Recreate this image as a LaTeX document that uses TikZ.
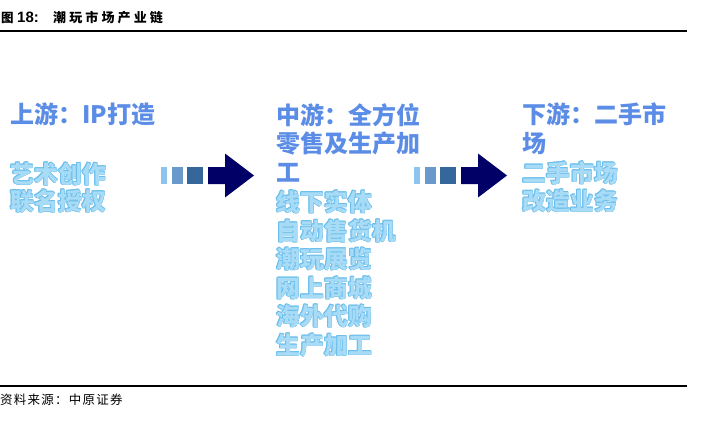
\documentclass[tikz,border=0pt]{standalone}
\usepackage{fontspec}
\setmainfont{Liberation Sans}
\newfontfamily\cjk{Noto Sans CJK SC}
\definecolor{headblue}{HTML}{5B8DE6}
\definecolor{itemfill}{HTML}{A8DBF6}
\definecolor{itemedge}{HTML}{6CBFEC}
\definecolor{barA}{HTML}{8EC3EE}
\definecolor{barB}{HTML}{6A9ACB}
\definecolor{barC}{HTML}{35679A}
\definecolor{navyarrow}{HTML}{000066}
\newcommand\edgecopy[3]{\makebox[0pt][l]{\hspace*{#1}\raisebox{#2}{\color{itemedge}#3}}}
\newcommand\outl[1]{%
  \edgecopy{-0.6pt}{0pt}{#1}\edgecopy{0.6pt}{0pt}{#1}%
  \edgecopy{0pt}{0.6pt}{#1}\edgecopy{0pt}{-0.6pt}{#1}%
  \edgecopy{-0.42pt}{0.42pt}{#1}\edgecopy{0.42pt}{0.42pt}{#1}%
  \edgecopy{-0.42pt}{-0.42pt}{#1}\edgecopy{0.42pt}{-0.42pt}{#1}%
  {\color{itemfill}#1}}
\begin{document}
\begin{tikzpicture}[x=1pt,y=-1pt,
  txt/.style={anchor=base west, inner sep=0pt},
  head/.style={txt, text=headblue, font=\cjk\bfseries\fontsize{24}{28}\selectfont},
  item/.style={txt, font=\cjk\bfseries\fontsize{24}{28}\selectfont},
  rule/.style={line width=2pt, black},
  flow/.pic={
    \fill[barA] (0,-8.5) rectangle (6,8.5);
    \fill[barB] (11,-8.5) rectangle (22,8.5);
    \fill[barC] (26,-8.5) rectangle (42,8.5);
    \fill[navyarrow] (47,-8.5) -- (64,-8.5) -- (64,-22) -- (93,0) -- (64,22) -- (64,8.5) -- (47,8.5) -- cycle;
  }]
\fill[white] (0,0) rectangle (701,436);
\useasboundingbox (0,0) rectangle (701,436);

% title
\node[txt, font=\cjk\bfseries\fontsize{12.5}{14}\selectfont] (t1) at (1,23) {图};
\node[txt, font=\bfseries\fontsize{15}{17}\selectfont] (t2) at (17,23) {18:};
\node[txt, font=\cjk\bfseries\fontsize{13}{15}\selectfont\addfontfeature{LetterSpace=24}] (t3) at (53,23) {潮玩市场产业链};
\coordinate (r1a) at (0,31); \coordinate (r1b) at (687,31);
\draw[rule] (r1a) -- (r1b);

% left column
\node[head] (lh) at (10,123) {上游：IP打造};
\node[item] (l1) at (10,183) {\outl{艺术创作}};
\node[item] (l2) at (10,210) {\outl{联名授权}};

% arrows
\pic at (161,175.5) {flow};
\pic at (414,175.5) {flow};

% middle column
\node[head] (mh1) at (276,124) {中游：全方位};
\node[head] (mh2) at (276,152) {零售及生产加};
\node[head] (mh3) at (276,181) {工};
\node[item] (m1) at (276,211) {\outl{线下实体}};
\node[item] (m2) at (276,240) {\outl{自动售货机}};
\node[item] (m3) at (276,268) {\outl{潮玩展览}};
\node[item] (m4) at (276,297) {\outl{网上商城}};
\node[item] (m5) at (276,325) {\outl{海外代购}};
\node[item] (m6) at (276,354) {\outl{生产加工}};

% right column
\node[head] (rh1) at (522,123) {下游：二手市};
\node[head] (rh2) at (522,152) {场};
\node[item] (r1) at (522,182) {\outl{二手市场}};
\node[item] (r2) at (522,210) {\outl{改造业务}};

% source
\coordinate (r2a) at (0,386); \coordinate (r2b) at (687,386);
\draw[rule] (r2a) -- (r2b);
\node[txt, font=\cjk\fontsize{12.5}{14}\selectfont\addfontfeature{LetterSpace=10}] (src) at (0,404.5) {资料来源：中原证券};
\end{tikzpicture}
\end{document}
